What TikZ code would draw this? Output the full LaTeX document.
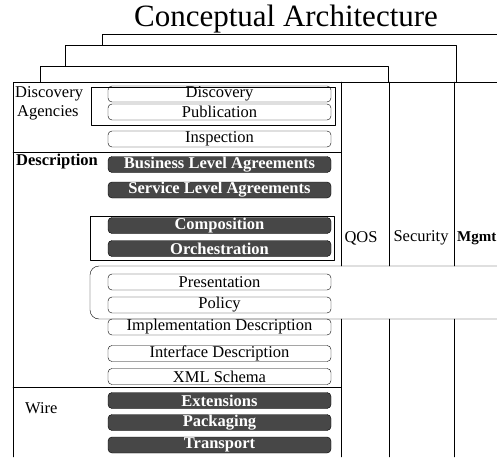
\documentclass[tikz,border=0pt]{standalone}
\usepackage{fontspec}
\setmainfont{Liberation Serif}
\usepackage{tikz}
\usetikzlibrary{positioning}

\begin{document}
\begin{tikzpicture}[x=1pt,y=-1pt,line cap=round,line join=round,
    font=\fontsize{16.5}{19}\selectfont,
    layerbox/.style={draw,rounded corners=4pt,minimum width=223pt,minimum height=16pt,inner sep=0pt},
    darkbox/.style={layerbox,fill=black!72,text=white,font=\fontsize{16.5}{19}\selectfont\bfseries},
    rowlabel/.style={anchor=west,inner sep=0pt}]
  \useasboundingbox (0,0) rectangle (497,457);
  % title
  \node (title) at (286,19) {\fontsize{31}{36}\selectfont Conceptual Architecture};
  % stacked frames
  \draw (102,45) -- (102,34) -- (497,34);
  \draw (65,66) -- (65,45) -- (456,45) -- (456,82);
  \draw (40,82) -- (40,66) -- (388,66) -- (388,82);
  \draw (13,457) -- (13,82) -- (497,82);
  % layer rules and columns
  \draw (13,152) -- (341,152);
  \draw (13,387) -- (341,387);
  \foreach \x in {341,389,454}
  {
    \draw (\x,82) -- (\x,266);
    \draw (\x,319) -- (\x,457);
  }
  \draw[rounded corners=9pt] (497,266) -- (90,266) -- (90,319) -- (497,319);
  % group brackets
  \draw (91,87) rectangle (335,125);
  \draw (90,216) rectangle (334,260);
  % row labels
  \node[rowlabel] (discl) at (15,94) {Discovery};
  \node[rowlabel] (agenl) at (17,113) {Agencies};
  \node[rowlabel,font=\fontsize{16.5}{19}\selectfont\bfseries] (descl) at (16,162) {Description};
  \node[rowlabel] (wirel) at (25,408) {Wire};
  % column labels
  \node (qos) at (361,238) {QOS};
  \node (sec) at (421,238) {Security};
  \node[anchor=east,inner sep=0pt,font=\fontsize{15}{18}\selectfont\bfseries] (mgmt) at (496.5,238) {Mgmt};
  % light layers
  \foreach \nm/\y/\txt in {disc/94/Discovery,publ/112/Publication,insp/139/Inspection,
      pres/282/Presentation,poli/305/Policy,impl/327/Implementation Description,
      intf/353.5/Interface Description,xmls/376.5/XML Schema}
    \node[layerbox] (\nm) at (219.5,\y) {\txt};
  % dark layers
  \foreach \nm/\y/\txt in {bla/164.5/Business Level Agreements,sla/190/Service Level Agreements,
      comp/225.5/Composition,orch/248.5/Orchestration,
      ext/400.5/Extensions,pack/422.5/Packaging,trans/445/Transport}
    \node[darkbox] (\nm) at (219.5,\y) {\txt};
\end{tikzpicture}
\end{document}
